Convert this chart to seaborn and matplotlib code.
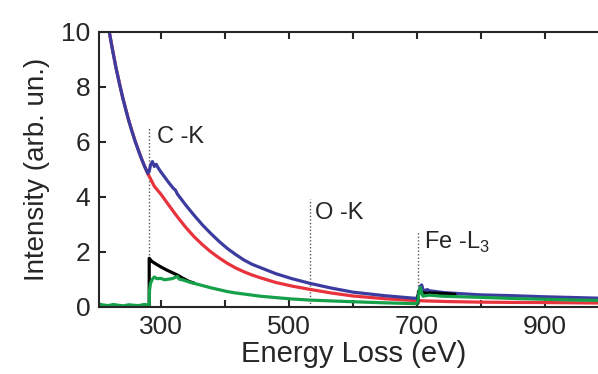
import matplotlib
matplotlib.use("Agg")
import matplotlib.pyplot as plt
import seaborn as sns

# total spectrum (blue)
blue_e = [205, 212, 220, 225, 230, 235, 240, 245, 250, 255, 260, 265, 270, 275, 280, 282,
          284, 287, 290, 293, 296, 300, 313, 320, 323, 326, 339, 352, 365, 378, 391, 404,
          417, 430, 443, 456, 480, 505, 533, 566, 600, 650, 700, 703, 706, 708, 711, 714,
          717, 720, 744, 800, 850, 900, 950, 1000]
blue_i = [12.3, 11.1, 9.94, 9.29, 8.7, 8.16, 7.66, 7.2, 6.77, 6.38, 6.02, 5.69, 5.38, 5.09,
          4.85, 4.92, 5.15, 5.28, 5.1, 5.18, 5.05, 4.91, 4.5, 4.3, 4.24, 4.1, 3.7, 3.33, 2.98,
          2.67, 2.38, 2.12, 1.9, 1.7, 1.54, 1.42, 1.2, 1.02, 0.85, 0.68, 0.53, 0.4, 0.3, 0.45,
          0.75, 0.79, 0.55, 0.6, 0.62, 0.58, 0.51, 0.43, 0.4, 0.36, 0.33, 0.3]

# background fit (red)
red_e = [205, 212, 220, 230, 240, 250, 260, 270, 280, 283, 290, 300, 313, 326, 339, 352,
         365, 378, 391, 404, 417, 430, 443, 456, 480, 505, 533, 566, 600, 650, 700, 750,
         800, 850, 900, 950, 1000]
red_i = [12.3, 11.1, 9.94, 8.7, 7.66, 6.77, 6.02, 5.38, 4.82, 4.7, 4.38, 4.1, 3.68, 3.27,
         2.89, 2.55, 2.26, 2.0, 1.78, 1.58, 1.41, 1.27, 1.15, 1.05, 0.88, 0.75, 0.63, 0.5,
         0.39, 0.29, 0.22, 0.185, 0.165, 0.155, 0.15, 0.14, 0.13]

# background-subtracted signal (green)
green_e = [203, 210, 218, 226, 234, 242, 250, 258, 266, 274, 281, 282, 282.5, 284, 287, 290,
           294, 300, 306, 312, 318, 322, 326, 329, 335, 344, 352, 365, 378, 391, 404, 417,
           430, 443, 456, 480, 505, 533, 566, 600, 650, 700, 702, 704, 706, 708, 710, 714,
           720, 740, 800, 850, 900, 950, 1000]
green_i = [0.1, 0.06, 0.04, 0.08, 0.05, 0.03, 0.07, 0.05, 0.04, 0.08, 0.06, 0.05, 0.6, 0.85,
           1.0, 1.08, 1.02, 1.03, 0.98, 1.0, 1.02, 1.06, 1.1, 1.0, 0.97, 0.9, 0.85, 0.77, 0.69,
           0.62, 0.55, 0.5, 0.46, 0.42, 0.38, 0.33, 0.28, 0.24, 0.21, 0.18, 0.14, 0.11, 0.2,
           0.55, 0.7, 0.5, 0.38, 0.4, 0.42, 0.38, 0.34, 0.3, 0.27, 0.24, 0.22]

# edge model (black), C-K and Fe-L3 pieces
black_ck_e = [282, 282, 286, 292, 300, 308, 317, 326, 335, 344, 352]
black_ck_i = [0.0, 1.76, 1.65, 1.56, 1.45, 1.35, 1.25, 1.15, 1.03, 0.92, 0.86]
black_fe_e = [702, 703, 712, 730, 750, 760]
black_fe_i = [0.12, 0.55, 0.5, 0.49, 0.47, 0.45]

edges = ["C -K", "O -K", "Fe -L$_3$"]
edge_e = [282, 533, 702]
edge_top = [6.55, 3.9, 2.75]
label_pos = [(294, 5.95), (541, 3.2), (711, 2.12)]

sns.set_style("ticks")
plt.rcParams["font.family"] = ["Liberation Sans", "DejaVu Sans"]
plt.rcParams["mathtext.fontset"] = "custom"
plt.rcParams["mathtext.rm"] = "Liberation Sans"

fig = plt.figure(figsize=(5.98, 3.74), dpi=100)
ax = fig.add_axes([0.165, 0.18, 0.8525, 0.735])

for e, top in zip(edge_e, edge_top):
    ax.plot([e, e], [0, top], color="0.35", linestyle=(0, (1, 1.5)), linewidth=1.0)
for name, (tx, ty) in zip(edges, label_pos):
    ax.text(tx, ty, name, fontsize=17, ha="left", va="baseline")

lw = 2.3
sns.lineplot(x=red_e, y=red_i, ax=ax, color="#e8323c", linewidth=lw, sort=False, estimator=None)
sns.lineplot(x=blue_e, y=blue_i, ax=ax, color="#3c3ca0", linewidth=lw, sort=False, estimator=None)
sns.lineplot(x=black_ck_e, y=black_ck_i, ax=ax, color="black", linewidth=lw, sort=False, estimator=None)
sns.lineplot(x=black_fe_e, y=black_fe_i, ax=ax, color="black", linewidth=lw, sort=False, estimator=None)
sns.lineplot(x=green_e, y=green_i, ax=ax, color="#17a04a", linewidth=lw, sort=False, estimator=None)

ax.set_xlim(203, 1000)
ax.set_ylim(0, 10)
ax.set_xticks(range(300, 1001, 100))
ax.set_xticklabels(["300", "", "500", "", "700", "", "900", ""])
ax.set_yticks(range(0, 11, 2))
ax.tick_params(direction="in", length=5, width=1.5, top=True, right=False,
               labelsize=19, pad=6)
for s in ax.spines.values():
    s.set_linewidth(1.5)
ax.spines["right"].set_visible(False)

ax.set_xlabel("Energy Loss (eV)", fontsize=21, labelpad=1)
ax.set_ylabel("Intensity (arb. un.)", fontsize=20, labelpad=8)

fig.savefig("out.png", dpi=100)
